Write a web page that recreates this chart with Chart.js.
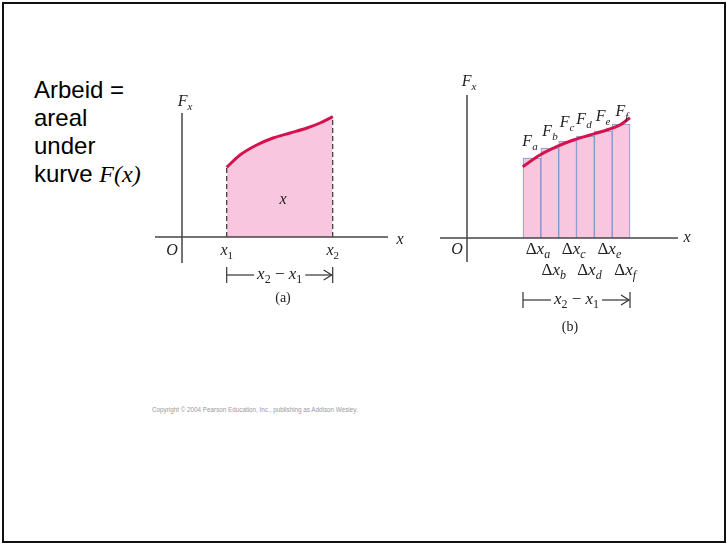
<!DOCTYPE html>
<html>
<head>
<meta charset="utf-8">
<script src="https://cdn.jsdelivr.net/npm/chart.js@4.4.0/dist/chart.umd.min.js"></script>
<style>
  body { margin: 0; background: #fff; width: 727px; height: 544px; position: relative; overflow: hidden; }
  #frame { position: absolute; left: 2px; top: 2px; width: 720px; height: 537px; border: 2px solid #111; }
  #tekst { position: absolute; left: 34px; top: 76px; font: 24px "Liberation Sans", Arial, sans-serif; line-height: 28px; color: #000; }
  #tekst i { font-family: "Liberation Serif", "Times New Roman", serif; font-size: 24px; }
  #copy { position: absolute; left: 152px; top: 406px; font: 6.3px "Liberation Sans", Arial, sans-serif; color: #999; white-space: nowrap; }
  canvas { position: absolute; }
  #figA { left: 140px; top: 80px; }
  #figB { left: 440px; top: 70px; }
</style>
</head>
<body>
<div id="frame"></div>
<div id="tekst">Arbeid =<br>areal<br>under<br>kurve <i>F(x)</i></div>
<div id="copy">Copyright © 2004 Pearson Education, Inc., publishing as Addison Wesley.</div>
<canvas id="figA" width="280" height="240"></canvas>
<canvas id="figB" width="260" height="290"></canvas>

<script>
// (a) kraftkurve F(x) mellom x1 og x2
const kurveAx = [4.47, 5.8, 7.47, 9.1, 10.8, 12.5, 13.8, 15.07];
const kurveAy = [6.97, 8.2, 9.2, 9.9, 10.4, 10.9, 11.4, 12.03];
const x1A = 4.47, x2A = 15.07;

// (b) samme kurve delt i seks strimler
const kurveBx = [5.57, 7.3, 8.97, 10.63, 12.3, 13.97, 15.3, 16.3];
const kurveBy = [7.13, 8.3, 9.13, 9.8, 10.3, 10.8, 11.3, 12.03];
const stripeSenter = [6.49, 8.28, 10.06, 11.84, 13.63, 15.41];
const stripeHoyde = [8.0, 9.0, 9.7, 10.2, 10.7, 11.4];
const stripeNavn = ["a", "b", "c", "d", "e", "f"];
const x1B = 5.6, x2B = 16.3;

const ROSA = "#f8c6df";
const ROD = "#d3134d";
const AKSE = "#444";
const SERIF = "'Liberation Serif', 'Times New Roman', serif";

function punkter(xs, ys) {
  return xs.map((x, i) => ({ x, y: ys[i] }));
}

// tegner tekst med evt. senket indeks: deler = [[tekst, kursiv, senket], ...]
function mattetekst(ctx, deler, x, y, str) {
  const fnt = (d) => (d[1] ? "italic " : "") + (d[2] ? Math.round(str * 0.7) : str) + "px " + SERIF;
  let bredde = 0;
  deler.forEach(d => { ctx.font = fnt(d); bredde += ctx.measureText(d[0]).width; });
  let cx = x - bredde / 2;
  ctx.fillStyle = "#222";
  ctx.textBaseline = "middle";
  ctx.textAlign = "left";
  deler.forEach(d => {
    ctx.font = fnt(d);
    ctx.fillText(d[0], cx, d[2] ? y + str * 0.3 : y);
    cx += ctx.measureText(d[0]).width;
  });
  return bredde;
}

function linje(ctx, ax, ay, bx, by) {
  ctx.beginPath();
  ctx.moveTo(ax, ay);
  ctx.lineTo(bx, by);
  ctx.stroke();
}

// akser, parentes og etiketter, plassert via skalaene
function tegnFigur(oppsett) {
  return {
    id: "figur",
    afterDatasetsDraw(chart) {
      const ctx = chart.ctx;
      const sx = chart.scales.x, sy = chart.scales.y;
      const px = v => sx.getPixelForValue(v);
      const py = v => sy.getPixelForValue(v);
      ctx.save();

      if (oppsett.stiplet) {
        ctx.strokeStyle = "#333";
        ctx.lineWidth = 1.2;
        ctx.setLineDash([5, 3]);
        oppsett.stiplet.forEach(s => linje(ctx, px(s[0]), py(0), px(s[0]), py(s[1])));
        ctx.setLineDash([]);
      }

      ctx.strokeStyle = AKSE;
      ctx.lineWidth = 1.5;
      linje(ctx, px(oppsett.xAkse[0]), py(0), px(oppsett.xAkse[1]), py(0));
      linje(ctx, px(0), py(oppsett.yAkse[0]), px(0), py(oppsett.yAkse[1]));

      // parentes  |--- x2 - x1 --->|
      const [b1, b2, by] = oppsett.parentes;
      const yb = py(by), xa = px(b1), xb = px(b2), midt = (xa + xb) / 2;
      const w = mattetekst(ctx, [["x", true], ["2", false, true], [" − ", false], ["x", true], ["1", false, true]], midt, yb, 17);
      ctx.strokeStyle = "#333";
      ctx.lineWidth = 1.2;
      linje(ctx, xa, yb - 8, xa, yb + 8);
      linje(ctx, xb, yb - 8, xb, yb + 8);
      linje(ctx, xa, yb, midt - w / 2 - 3, yb);
      linje(ctx, midt + w / 2 + 3, yb, xb - 1, yb);
      ctx.beginPath();
      ctx.moveTo(xb - 9, yb - 5);
      ctx.lineTo(xb - 1, yb);
      ctx.lineTo(xb - 9, yb + 5);
      ctx.stroke();

      oppsett.etiketter.forEach(e => mattetekst(ctx, e.deler, px(e.x), py(e.y), e.str));
      ctx.restore();
    }
  };
}

function skalaer(xmin, xmax, ymin, ymax) {
  return {
    x: { type: "linear", display: false, offset: false, min: xmin, max: xmax },
    y: { type: "linear", display: false, min: ymin, max: ymax }
  };
}

const felles = {
  responsive: false,
  animation: false,
  layout: { padding: 0 },
  plugins: { legend: { display: false }, tooltip: { enabled: false } }
};

new Chart(document.getElementById("figA"), {
  type: "line",
  data: {
    datasets: [{
      data: punkter(kurveAx, kurveAy),
      borderColor: ROD,
      borderWidth: 3,
      backgroundColor: ROSA,
      fill: "origin",
      pointRadius: 0,
      cubicInterpolationMode: "monotone"
    }]
  },
  options: { ...felles, scales: skalaer(-4.2, 23.8, -8.3, 15.7) },
  plugins: [tegnFigur({
    xAkse: [-2.7, 20.6],
    yAkse: [-2.6, 12.4],
    stiplet: [[x1A, kurveAy[0]], [x2A, kurveAy[kurveAy.length - 1]]],
    parentes: [x1A, x2A, -3.8],
    etiketter: [
      { deler: [["F", true], ["x", true, true]], x: 0.3, y: 13.5, str: 16 },
      { deler: [["x", true]], x: 21.8, y: -0.3, str: 16 },
      { deler: [["O", true]], x: -1.0, y: -1.4, str: 16 },
      { deler: [["x", true], ["1", false, true]], x: x1A, y: -1.4, str: 16 },
      { deler: [["x", true], ["2", false, true]], x: x2A, y: -1.4, str: 16 },
      { deler: [["x", true]], x: 10.1, y: 3.7, str: 16 },
      { deler: [["(a)", false]], x: 10.1, y: -6.1, str: 14 }
    ]
  })]
});

new Chart(document.getElementById("figB"), {
  data: {
    datasets: [
      {
        type: "line",
        order: 0,
        data: punkter(kurveBx, kurveBy),
        borderColor: ROD,
        borderWidth: 3,
        fill: false,
        pointRadius: 0,
        cubicInterpolationMode: "monotone"
      },
      {
        type: "bar",
        order: 1,
        data: punkter(stripeSenter, stripeHoyde),
        backgroundColor: ROSA,
        borderColor: "#7f95cf",
        borderWidth: 1,
        borderSkipped: "bottom",
        barPercentage: 1,
        categoryPercentage: 1
      }
    ]
  },
  options: { ...felles, scales: skalaer(-2.7, 23.3, -12.2, 16.8) },
  plugins: [tegnFigur({
    xAkse: [-2.7, 21.1],
    yAkse: [-2.4, 14.3],
    parentes: [x1B, x2B, -6.2],
    etiketter: [
      { deler: [["F", true], ["x", true, true]], x: 0.2, y: 15.6, str: 16 },
      { deler: [["x", true]], x: 22.0, y: 0, str: 16 },
      { deler: [["O", true]], x: -1.0, y: -1.2, str: 16 },
      ...stripeNavn.map((n, i) => ({
        deler: [["Δ", false], ["x", true], [n, true, true]],
        x: stripeSenter[i] + (i % 2 ? 0.4 : 0.6),
        y: i % 2 ? -3.3 : -1.2,
        str: 17
      })),
      { deler: [["F", true], ["a", true, true]], x: 6.3, y: 9.6, str: 16 },
      { deler: [["F", true], ["b", true, true]], x: 8.3, y: 10.6, str: 16 },
      { deler: [["F", true], ["c", true, true]], x: 10.0, y: 11.5, str: 16 },
      { deler: [["F", true], ["d", true, true]], x: 11.7, y: 11.8, str: 16 },
      { deler: [["F", true], ["e", true, true]], x: 13.6, y: 12.1, str: 16 },
      { deler: [["F", true], ["f", true, true]], x: 15.5, y: 12.6, str: 16 },
      { deler: [["(b)", false]], x: 10.3, y: -8.9, str: 14 }
    ]
  })]
});
</script>
</body>
</html>
